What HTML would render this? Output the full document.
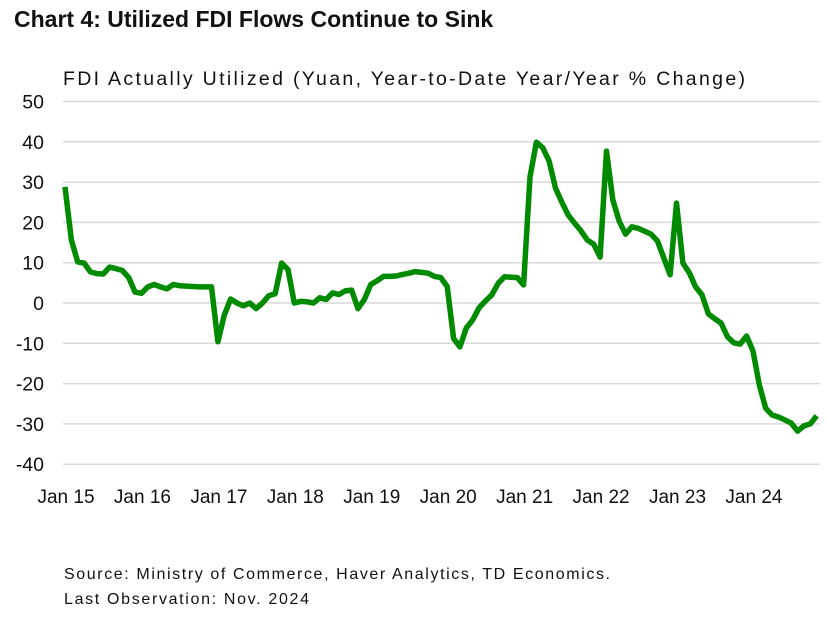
<!DOCTYPE html>
<html><head><meta charset="utf-8"><style>
body{margin:0;background:#fff;width:827px;height:617px;overflow:hidden;font-family:"Liberation Sans",sans-serif;}
svg{display:block}
</style></head><body>
<svg id="chart" width="827" height="617" xmlns="http://www.w3.org/2000/svg" font-family="Liberation Sans, sans-serif">
<text x="14" y="27" font-size="23" font-weight="bold" fill="#111">Chart 4: Utilized FDI Flows Continue to Sink</text>
<text x="63" y="85" font-size="19.5" fill="#111" textLength="682" lengthAdjust="spacing">FDI Actually Utilized (Yuan, Year-to-Date Year/Year % Change)</text>
<g id="grid"></g><g id="ylabels"></g><g id="xlabels"></g><g id="series"></g>
<text x="64" y="579" font-size="16" fill="#111" textLength="546" lengthAdjust="spacing">Source: Ministry of Commerce, Haver Analytics, TD Economics.</text>
<text x="64" y="604" font-size="16" fill="#111" textLength="245" lengthAdjust="spacing">Last Observation: Nov. 2024</text>
</svg>
<script>
const yTicks=[50,40,30,20,10,0,-10,-20,-30,-40];
const xTickLabels=["Jan 15","Jan 16","Jan 17","Jan 18","Jan 19","Jan 20","Jan 21","Jan 22","Jan 23","Jan 24"];
const xTickMonths=[0,12,24,36,48,60,72,84,96,108];
const fdiValues=[28.8,15.6,10.2,9.9,7.7,7.3,7.2,8.9,8.5,8.1,6.3,2.7,2.4,4.0,4.6,4.0,3.5,4.6,4.3,4.2,4.1,4.0,4.0,4.0,
-9.6,-3,1,0,-0.7,0,-1.4,0,1.8,2.3,9.9,8.3,0,0.4,0.3,0,1.3,0.9,2.5,2.1,3,3.2,-1.4,0.9,
4.6,5.5,6.6,6.6,6.7,7.1,7.4,7.8,7.6,7.4,6.6,6.3,4.1,-8.8,-10.9,-6.2,-4.2,-1.2,0.5,2,4.9,6.5,6.4,6.3,
4.5,31.3,39.9,38.5,35.2,28.5,25,21.8,19.8,17.9,15.6,14.6,11.4,37.7,25.6,20.3,17.1,18.9,18.5,17.8,17.1,15.4,11.2,7,
24.8,9.9,7.5,4,2,-2.7,-3.9,-5,-8.4,-9.9,-10.2,-8.2,-11.9,-20.3,-26.1,-27.8,-28.3,-29,-29.8,-31.8,-30.5,-30,-28];
const NS="http://www.w3.org/2000/svg";
function xs(m){return 65+m*6.37;}
function ys(v){return 303-v*4.03;}
const grid=document.getElementById('grid'),yl=document.getElementById('ylabels'),xl=document.getElementById('xlabels'),ser=document.getElementById('series');
yTicks.forEach(t=>{
 const l=document.createElementNS(NS,'line');
 
 
 l.setAttribute('x1',63);l.setAttribute('x2',820);l.setAttribute('y1',ys(t));l.setAttribute('y2',ys(t));
 l.setAttribute('stroke','#d9d9d9');l.setAttribute('stroke-width','1.5');grid.appendChild(l);
 const tx=document.createElementNS(NS,'text');
 
 
 tx.setAttribute('x',44);tx.setAttribute('y',ys(t)+7);tx.setAttribute('text-anchor','end');tx.setAttribute('font-size','19.5');tx.setAttribute('fill','#111');
 tx.textContent=t;yl.appendChild(tx);
});
xTickLabels.forEach((s,i)=>{
 const tx=document.createElementNS(NS,'text');
 
 
 tx.setAttribute('x',xs(xTickMonths[i])+1);tx.setAttribute('y',503);tx.setAttribute('text-anchor','middle');tx.setAttribute('font-size','19');tx.setAttribute('fill','#111');
 tx.textContent=s;xl.appendChild(tx);
});
const p=document.createElementNS(NS,'polyline');


p.setAttribute('points',fdiValues.map((v,i)=>xs(i).toFixed(1)+','+ys(v).toFixed(1)).join(' '));
p.setAttribute('fill','none');p.setAttribute('stroke','#008a00');p.setAttribute('stroke-width','5.5');p.setAttribute('stroke-linejoin','round');
ser.appendChild(p);
</script>
</body></html>
